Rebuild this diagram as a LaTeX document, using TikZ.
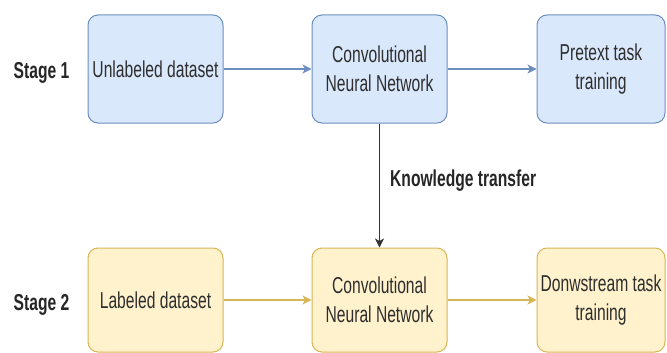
\documentclass[tikz,border=0pt]{standalone}
\usepackage{fontspec}
\setmainfont[FakeStretch=0.68]{Liberation Sans}
\usetikzlibrary{arrows.meta}
\definecolor{bfill}{HTML}{DAE8FC}
\definecolor{bline}{HTML}{6C8EBF}
\definecolor{yfill}{HTML}{FFF2CC}
\definecolor{yline}{HTML}{D6B656}
\definecolor{txt}{HTML}{2E2E2E}
\begin{document}
\begin{tikzpicture}[x=1pt,y=-1pt,
  box/.style={rounded corners=10pt, line width=1pt, minimum width=135pt,
    minimum height=108pt, inner sep=0pt, align=center,
    font=\fontsize{23}{28.5}\selectfont, text=txt},
  bluebox/.style={box, fill=bfill, draw=bline},
  yellowbox/.style={box, fill=yfill, draw=yline, minimum height=104pt},
  stagelbl/.style={font=\fontsize{23}{28.5}\selectfont\bfseries, text=black!85, inner sep=0pt},
  tip/.style={-{Stealth[length=9pt,width=9pt,inset=2.5pt]}, line width=1.3pt},
  bluearrow/.style={tip, draw=bline},
  yellowarrow/.style={tip, draw=yline},
  blackarrow/.style={tip, draw=black!80}]
\useasboundingbox (0,0) rectangle (667,353);
\fill[white] (0,0) rectangle (667,353);
% stage 1
\node[stagelbl] (s1) at (41.5,73) {Stage 1};
\node[bluebox] (u1) at (155.5,69) {Unlabeled dataset};
\node[bluebox] (c1) at (379.5,69) {Convolutional\\Neural Network};
\node[bluebox, minimum width=128pt] (p1) at (601,69) {Pretext task\\training};
% stage 2
\node[stagelbl] (s2) at (41.5,305) {Stage 2};
\node[yellowbox] (u2) at (155.5,300) {Labeled dataset};
\node[yellowbox] (c2) at (379.5,300) {Convolutional\\Neural Network};
\node[yellowbox, minimum width=128pt] (d2) at (601,300) {Donwstream task\\training};
% connectors
\draw[bluearrow] (u1) -- (c1);
\draw[bluearrow] (c1) -- (p1);
\draw[yellowarrow] (u2) -- (c2);
\draw[yellowarrow] (c2) -- (d2);
\draw[blackarrow] (c1.south) -- node[pos=0.46, anchor=west, xshift=10pt, stagelbl] (kt) {Knowledge transfer} (c2.north);
\end{tikzpicture}
\end{document}
